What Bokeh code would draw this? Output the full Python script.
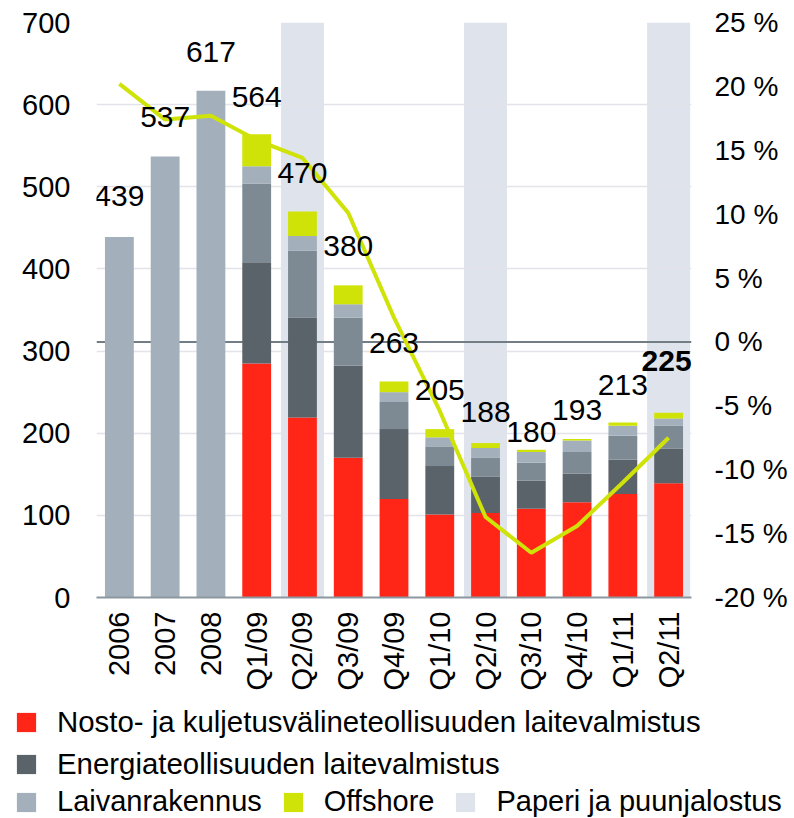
import math
from bokeh.plotting import figure
from bokeh.layouts import column
from bokeh.models import (FactorRange, Range1d, LinearAxis, FixedTicker, PrintfTickFormatter,
                          Span, Legend, LegendItem, ColumnDataSource)
from bokeh.embed import file_html
from bokeh.resources import INLINE

# ---------------- data ----------------
categories = ["2006", "2007", "2008", "Q1/09", "Q2/09", "Q3/09", "Q4/09",
              "Q1/10", "Q2/10", "Q3/10", "Q4/10", "Q1/11", "Q2/11"]
totals = [439, 537, 617, 564, 470, 380, 263, 205, 188, 180, 193, 213, 225]
annual_years = ["2006", "2007", "2008"]
annual_values = [439, 537, 617]
nosto = [0, 0, 0, 285, 219, 170, 120, 101, 103, 108, 116, 126, 139]
energia = [0, 0, 0, 123, 122, 112, 85, 59, 44, 34, 35, 42, 42]
muut = [0, 0, 0, 96, 81, 59, 33, 24, 23, 22, 26, 29, 28]
laiva = [0, 0, 0, 21, 18, 16, 12, 11, 12, 13, 14, 12, 9]
offshore = [0, 0, 0, 39, 30, 23, 13, 10, 6, 3, 2, 4, 7]
change_pct = [20.2, 17.4, 17.7, 15.8, 14.4, 10.1, 1.9, -5.4, -13.7, -16.5, -14.4, -11.0, -7.5]
paperi_cols = ["Q2/09", "Q2/10", "Q2/11"]
left_ticks = [0, 100, 200, 300, 400, 500, 600, 700]
right_ticks = [-20, -15, -10, -5, 0, 5, 10, 15, 20, 25]

labels = {
    "nosto": "Nosto- ja kuljetusvälineteollisuuden laitevalmistus",
    "energia": "Energiateollisuuden laitevalmistus",
    "laiva": "Laivanrakennus",
    "offshore": "Offshore",
    "paperi": "Paperi ja puunjalostus",
}

# ---------------- style ----------------
FONT = "Liberation Sans"
C_RED = "#ff2618"
C_DARK = "#5b636a"
C_MED = "#7e8a93"
C_LIGHT = "#a3b0bb"
C_OFF = "#cfe308"
C_BG = "#dfe3eb"
label_dy = [36, 34, 34, 32, 34, 35, 34, 34, 24, 8, 22, 32, 49]
label_dx = [0, 0, 0, 0, 0, 0, 0, 0, 0, 0, 0, 0, -2]

W = 790
H1, H2 = 700, 118
FL, FR, FT, FB = 96, 692, 22, 597

y_min, y_max = left_ticks[0], left_ticks[-1]
p = figure(x_range=FactorRange(*categories, range_padding=0),
           y_range=Range1d(y_min, y_max),
           width=W, height=H1, output_backend="svg", toolbar_location=None,
           min_border_left=FL, min_border_right=W - FR, min_border_top=FT,
           min_border_bottom=H1 - FB)
p.outline_line_color = None
p.extra_y_ranges = {"pct": Range1d(right_ticks[0], right_ticks[-1])}

# background columns (Paperi ja puunjalostus)
p.vbar(x=paperi_cols, top=y_max, bottom=y_min, width=0.94,
       fill_color=C_BG, line_color=None, level="image")

# grid
p.xgrid.grid_line_color = None
p.ygrid.ticker = FixedTicker(ticks=left_ticks)
p.ygrid.grid_line_color = "#e3e3ea"
p.ygrid.grid_line_width = 1.5

zero = Span(location=0, dimension="width", y_range_name="pct",
            line_color="#737d85", line_width=2, level="underlay")
p.add_layout(zero)

# annual bars
p.vbar(x=annual_years, top=annual_values, width=0.63, fill_color=C_LIGHT, line_color=None)

# stacked bars
src = ColumnDataSource(dict(cat=categories, nosto=nosto, energia=energia, muut=muut,
                            laiva=laiva, offshore=offshore))
p.vbar_stack(["nosto", "energia", "muut", "laiva", "offshore"], x="cat", width=0.63,
             fill_color=[C_RED, C_DARK, C_MED, C_LIGHT, C_OFF], line_color=None,
             source=src)

# line
p.line(x=categories, y=change_pct, y_range_name="pct", line_color=C_OFF, line_width=4)

# value labels
lab_src = ColumnDataSource(dict(
    x=categories,
    y=[t + d for t, d in zip(totals, label_dy)],
    dx=label_dx,
    text=[str(t) for t in totals],
    style=["normal"] * (len(totals) - 1) + ["bold"],
))
p.text(x="x", y="y", text="text", source=lab_src, x_offset="dx", y_offset=-11,
       text_align="center", text_baseline="alphabetic", text_font_size="30px",
       text_color="black", text_font_style="style", text_font={"value": FONT})

# axes
p.yaxis.ticker = FixedTicker(ticks=left_ticks)
p.yaxis.axis_line_color = None
p.yaxis.major_tick_line_color = None
p.yaxis.minor_tick_line_color = None
p.yaxis.major_tick_out = 0
p.yaxis.major_tick_in = 0
p.yaxis.minor_tick_out = 0
p.yaxis.major_label_standoff = 26
p.yaxis.major_label_text_font = FONT
p.yaxis.major_label_text_font_size = "29px"
p.yaxis.major_label_text_color = "black"

ra = LinearAxis(y_range_name="pct", ticker=FixedTicker(ticks=right_ticks),
                formatter=PrintfTickFormatter(format="%d %%"))
ra.axis_line_color = None
ra.major_tick_line_color = None
ra.minor_tick_line_color = None
ra.major_tick_out = 0
ra.major_tick_in = 0
ra.minor_tick_out = 0
ra.major_label_standoff = 23
ra.major_label_text_font = FONT
ra.major_label_text_font_size = "28px"
ra.major_label_text_color = "black"
p.add_layout(ra, "right")

p.xaxis.axis_line_color = "#8c97a0"
p.xaxis.axis_line_width = 2
p.xaxis.major_tick_line_color = None
p.xaxis.minor_tick_line_color = None
p.xaxis.major_tick_out = 0
p.xaxis.major_tick_in = 0
p.xaxis.minor_tick_out = 0
p.xaxis.major_label_orientation = math.pi / 2
p.xaxis.major_label_standoff = 14
p.xaxis.major_label_text_font = FONT
p.xaxis.major_label_text_font_size = "29px"
p.xaxis.major_label_text_color = "black"

# ---------------- legend panel ----------------
q = figure(width=W, height=H2, output_backend="svg", toolbar_location=None,
           x_range=Range1d(0, 1), y_range=Range1d(0, 1),
           x_axis_type=None, y_axis_type=None,
           min_border_left=0, min_border_right=0, min_border_top=0, min_border_bottom=0)
q.outline_line_color = None
q.grid.grid_line_color = None
for fig in (p, q):
    try:
        fig.frame_align = False
    except Exception:
        pass


def swatch(color):
    # zero-height bar: only used for its legend swatch
    return q.vbar(x=[0], top=[0], bottom=[0], width=0.01, fill_color=color, line_color=None)


r_nosto = swatch(C_RED)
r_energia = swatch(C_DARK)
r_laiva = swatch(C_LIGHT)
r_off = swatch(C_OFF)
r_pap = swatch(C_BG)


def mk_legend(items, loc, size):
    return Legend(items=items, orientation="horizontal", location=loc,
                  border_line_color=None, background_fill_alpha=0,
                  padding=0, margin=0, glyph_width=24, glyph_height=24,
                  label_standoff=19, spacing=19, label_height=24,
                  label_text_font=FONT, label_text_font_size=size,
                  label_text_color="black")


q.add_layout(mk_legend([LegendItem(label=labels["nosto"], renderers=[r_nosto])],
                       (14, 79), "29.4px"))
q.add_layout(mk_legend([LegendItem(label=labels["energia"], renderers=[r_energia])],
                       (14, 37), "29.4px"))
q.add_layout(mk_legend([LegendItem(label=labels["laiva"], renderers=[r_laiva]),
                        LegendItem(label=labels["offshore"], renderers=[r_off]),
                        LegendItem(label=labels["paperi"], renderers=[r_pap])],
                       (14, 0), "29px"))

open("out.html", "w").write(file_html(column(p, q), INLINE))
